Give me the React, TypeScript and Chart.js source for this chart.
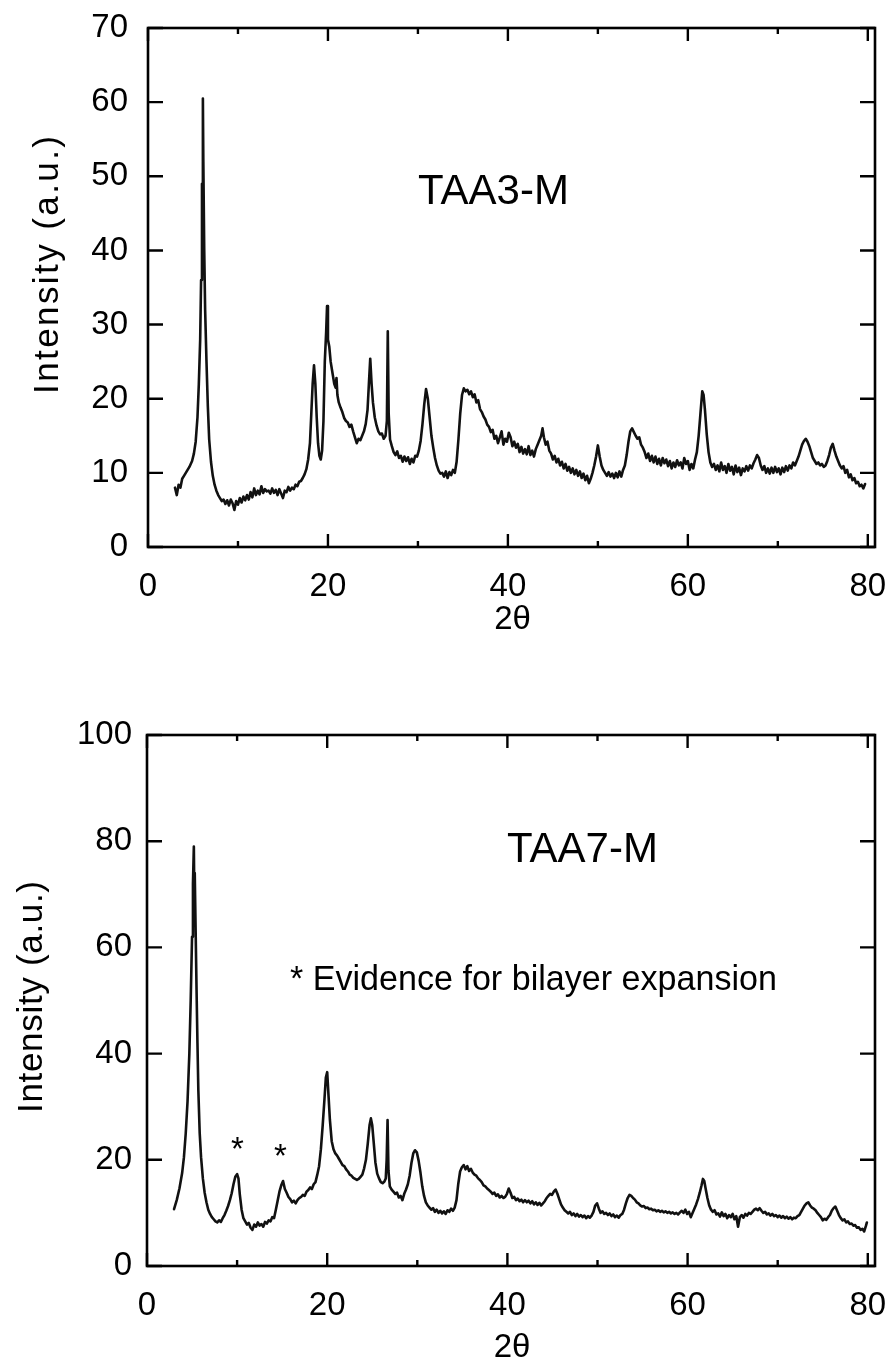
import { useEffect, useRef } from "react";
import { Chart, registerables } from "chart.js";

Chart.register(...registerables);

const FONT = '"Liberation Sans", Arial, Helvetica, sans-serif';

// TAA3-M diffraction pattern: 2θ (degrees) and intensity (a.u.)
const taa3Angle = [
  3.0, 3.2, 3.4, 3.6, 3.8, 4.0, 4.3, 4.6, 4.9, 5.1, 5.3, 5.5, 5.65, 5.8, 5.9, 6.0, 6.05, 6.1, 6.15, 6.25,
  6.35, 6.5, 6.65, 6.8, 7.0, 7.2, 7.4, 7.6, 7.8, 8.0, 8.2, 8.4, 8.6, 8.8, 9.0, 9.2, 9.4, 9.6, 9.8, 10.0,
  10.2, 10.4, 10.6, 10.8, 11.0, 11.2, 11.4, 11.6, 11.8, 12.0, 12.2, 12.4, 12.6, 12.8, 13.0, 13.2, 13.4, 13.6, 13.8, 14.0,
  14.2, 14.4, 14.6, 14.8, 15.0, 15.2, 15.4, 15.6, 15.8, 16.0, 16.2, 16.4, 16.6, 16.8, 17.0, 17.2, 17.4, 17.6, 17.8, 18.0,
  18.15, 18.3, 18.45, 18.6, 18.75, 18.9, 19.05, 19.2, 19.35, 19.5, 19.65, 19.8, 19.9, 20.0, 20.15, 20.3, 20.5, 20.7, 20.85, 20.95,
  21.05, 21.2, 21.4, 21.6, 21.8, 22.0, 22.2, 22.4, 22.6, 22.8, 23.0, 23.2, 23.4, 23.6, 23.8, 24.0, 24.2, 24.4, 24.55, 24.7,
  24.85, 25.0, 25.2, 25.4, 25.6, 25.8, 26.0, 26.2, 26.4, 26.55, 26.65, 26.75, 26.9, 27.1, 27.3, 27.5, 27.7, 27.9, 28.1, 28.3,
  28.5, 28.7, 28.9, 29.1, 29.3, 29.5, 29.7, 29.9, 30.1, 30.3, 30.5, 30.7, 30.9, 31.1, 31.3, 31.5, 31.7, 31.9, 32.1, 32.3,
  32.5, 32.7, 32.9, 33.1, 33.3, 33.5, 33.7, 33.9, 34.1, 34.3, 34.5, 34.7, 34.9, 35.1, 35.3, 35.5, 35.7, 35.9, 36.1, 36.3,
  36.5, 36.7, 36.9, 37.1, 37.3, 37.5, 37.7, 37.9, 38.1, 38.3, 38.5, 38.7, 38.9, 39.1, 39.3, 39.5, 39.7, 39.9, 40.1, 40.3,
  40.5, 40.7, 40.9, 41.1, 41.3, 41.5, 41.7, 41.9, 42.1, 42.3, 42.5, 42.7, 42.9, 43.1, 43.3, 43.5, 43.7, 43.85, 44.0, 44.2,
  44.4, 44.6, 44.8, 45.0, 45.2, 45.4, 45.6, 45.8, 46.0, 46.2, 46.4, 46.6, 46.8, 47.0, 47.2, 47.4, 47.6, 47.8, 48.0, 48.2,
  48.4, 48.6, 48.8, 49.0, 49.2, 49.4, 49.6, 49.8, 50.0, 50.2, 50.4, 50.6, 50.8, 51.0, 51.2, 51.4, 51.6, 51.8, 52.0, 52.2,
  52.4, 52.6, 52.8, 53.0, 53.2, 53.4, 53.6, 53.8, 54.0, 54.2, 54.4, 54.6, 54.8, 55.0, 55.2, 55.4, 55.6, 55.8, 56.0, 56.2,
  56.4, 56.6, 56.8, 57.0, 57.2, 57.4, 57.6, 57.8, 58.0, 58.2, 58.4, 58.6, 58.8, 59.0, 59.2, 59.4, 59.6, 59.8, 60.0, 60.2,
  60.4, 60.6, 60.8, 61.0, 61.2, 61.4, 61.6, 61.75, 61.9, 62.1, 62.3, 62.5, 62.7, 62.9, 63.1, 63.3, 63.5, 63.7, 63.9, 64.1,
  64.3, 64.5, 64.7, 64.9, 65.1, 65.3, 65.5, 65.7, 65.9, 66.1, 66.3, 66.5, 66.7, 66.9, 67.1, 67.3, 67.5, 67.7, 67.9, 68.1,
  68.3, 68.5, 68.7, 68.9, 69.1, 69.3, 69.5, 69.7, 69.9, 70.1, 70.3, 70.5, 70.7, 70.9, 71.1, 71.3, 71.5, 71.7, 71.9, 72.1,
  72.3, 72.5, 72.7, 72.9, 73.1, 73.3, 73.5, 73.7, 73.9, 74.1, 74.3, 74.5, 74.7, 74.9, 75.1, 75.3, 75.5, 75.7, 75.9, 76.1,
  76.3, 76.5, 76.7, 76.9, 77.1, 77.3, 77.5, 77.7, 77.9, 78.1, 78.3, 78.5, 78.7, 78.9, 79.1, 79.3, 79.5, 79.7,
];
const taa3Intensity = [
  8.0, 7.0, 8.4, 8.0, 9.2, 9.6, 10.2, 10.8, 11.6, 12.6, 14.2, 17.5, 22, 28, 36, 49, 47, 60.5, 52, 40,
  32, 25, 19, 14.5, 11.5, 9.6, 8.4, 7.6, 7.0, 6.6, 6.2, 6.4, 5.8, 6.3, 5.6, 6.4, 5.9, 5.0, 6.2, 5.7,
  6.6, 6.0, 6.8, 6.3, 7.0, 6.4, 7.4, 6.7, 7.9, 7.0, 7.6, 7.1, 8.2, 7.3, 7.8, 7.5, 7.6, 7.2, 7.9, 7.3,
  7.7, 7.0, 7.8, 7.2, 6.6, 7.6, 7.4, 8.1, 7.6, 8.0, 7.8, 8.4, 8.2, 8.8, 8.9, 9.3, 9.8, 10.5, 11.8, 14,
  18, 22, 24.5, 22, 17.5, 14, 12.3, 11.8, 13, 17, 25, 29, 32.5, 28, 27, 25, 23.5, 22, 21.5, 22.8,
  20.5, 19.5, 18.8, 18.2, 17.4, 17.0, 16.8, 16.2, 16.5, 15.6, 14.8, 14.0, 14.6, 14.4, 15.0, 15.6, 16.6, 18.5, 22, 25.4,
  22, 19.5, 17.5, 16.4, 15.6, 15.2, 15.3, 14.6, 15.0, 17, 29.1, 18, 14.5, 13.6, 12.8, 12.4, 12.9, 12.0, 12.3, 11.5,
  12.2, 11.6, 12.1, 11.2, 11.9, 11.4, 12.3, 12.2, 13.0, 14.3, 16.5, 19.2, 21.3, 20.0, 17.5, 15.0, 13.4, 12.0, 11.0, 10.3,
  9.9, 10.0, 9.5, 10.2, 9.3, 10.1, 9.7, 10.4, 10.0, 11.5, 14.5, 18, 20.5, 21.4, 21.0, 21.2, 20.6, 21.0, 20.2, 20.6,
  19.5, 19.8, 18.6, 18.2, 17.6, 17.2, 16.5, 16.2, 15.5, 15.8, 14.6, 15.0, 14.0, 14.8, 15.6, 13.8, 14.6, 14.2, 15.4, 14.8,
  13.6, 14.2, 13.4, 13.9, 12.8, 13.5, 12.6, 13.2, 12.5, 13.6, 12.4, 13.0, 12.2, 13.2, 13.8, 14.4, 15.0, 16.0, 14.8, 13.8,
  14.2, 13.0, 12.6, 11.8, 12.3, 11.4, 11.9, 11.0, 11.5, 10.6, 11.2, 10.3, 10.8, 10.0, 10.6, 9.8, 10.4, 9.6, 10.2, 9.3,
  9.9, 9.0, 9.6, 8.6, 9.2, 10.0, 11.0, 12.2, 13.7, 12.2, 11.0, 10.4, 10.0, 9.6, 10.1, 9.5, 9.9, 9.3, 10.0, 9.4,
  10.2, 9.5, 10.4, 11.0, 12.4, 14.2, 15.6, 16.0, 15.5, 15.0, 14.6, 14.8, 13.8, 13.4, 12.8, 12.0, 12.6, 11.6, 12.3, 11.4,
  12.2, 11.2, 11.9, 11.0, 12.0, 11.3, 11.8, 10.9, 11.6, 10.6, 11.4, 10.8, 11.7, 11.0, 11.4, 10.6, 12.0, 11.2, 11.6, 10.4,
  11.2, 10.6, 11.8, 12.8, 15.0, 18.0, 21.0, 20.5, 18.5, 15.2, 12.8, 11.4, 10.8, 11.2, 10.4, 11.0, 10.2, 11.4, 10.4, 10.9,
  10.0, 11.2, 10.3, 10.8, 9.8, 11.0, 10.1, 10.7, 9.7, 10.6, 10.2, 10.9, 10.3, 11.0, 10.6, 11.3, 11.8, 12.4, 12.0, 11.0,
  10.4, 10.9, 10.0, 10.6, 9.9, 10.7, 10.0, 10.8, 10.1, 10.6, 9.8, 10.7, 10.1, 10.9, 10.3, 11.0, 10.6, 11.4, 11.0, 11.6,
  12.2, 13.0, 13.8, 14.3, 14.6, 14.2, 13.6, 12.8, 12.0, 11.6, 11.2, 11.4, 11.0, 11.2, 10.8, 11.0, 11.6, 12.4, 13.4, 13.9,
  13.0, 12.2, 11.6, 11.0, 10.6, 10.9, 10.0, 10.4, 9.4, 9.8, 9.0, 9.3, 8.6, 8.8, 8.2, 8.4, 7.9, 8.5,
];

// TAA7-M diffraction pattern: 2θ (degrees) and intensity (a.u.)
const taa7Angle = [
  3.0, 3.3, 3.6, 3.9, 4.1, 4.3, 4.5, 4.7, 4.85, 5.0, 5.1, 5.2, 5.25, 5.3, 5.4, 5.5, 5.6, 5.7, 5.85, 6.0,
  6.2, 6.4, 6.6, 6.8, 7.0, 7.2, 7.4, 7.6, 7.8, 8.0, 8.2, 8.4, 8.6, 8.8, 9.0, 9.2, 9.4, 9.6, 9.8, 10.0,
  10.15, 10.3, 10.5, 10.7, 10.9, 11.1, 11.3, 11.5, 11.7, 11.9, 12.1, 12.3, 12.5, 12.7, 12.9, 13.1, 13.3, 13.5, 13.7, 13.9,
  14.1, 14.3, 14.5, 14.7, 14.9, 15.1, 15.3, 15.5, 15.7, 15.9, 16.1, 16.3, 16.5, 16.7, 16.9, 17.1, 17.3, 17.5, 17.7, 17.9,
  18.1, 18.3, 18.5, 18.7, 18.9, 19.1, 19.3, 19.5, 19.7, 19.85, 20.0, 20.15, 20.3, 20.5, 20.7, 20.9, 21.1, 21.3, 21.5, 21.7,
  21.9, 22.1, 22.3, 22.5, 22.7, 22.9, 23.1, 23.3, 23.5, 23.7, 23.9, 24.1, 24.3, 24.5, 24.7, 24.85, 25.0, 25.15, 25.35, 25.55,
  25.75, 25.95, 26.15, 26.35, 26.5, 26.6, 26.7, 26.8, 26.95, 27.15, 27.35, 27.55, 27.75, 27.95, 28.15, 28.35, 28.55, 28.75, 28.95, 29.15,
  29.35, 29.55, 29.75, 29.95, 30.15, 30.35, 30.55, 30.75, 30.95, 31.15, 31.35, 31.55, 31.75, 31.95, 32.15, 32.35, 32.55, 32.75, 32.95, 33.15,
  33.35, 33.55, 33.75, 33.95, 34.15, 34.35, 34.55, 34.75, 34.95, 35.15, 35.35, 35.55, 35.75, 35.95, 36.15, 36.35, 36.55, 36.75, 36.95, 37.15,
  37.35, 37.55, 37.75, 37.95, 38.15, 38.35, 38.55, 38.75, 38.95, 39.15, 39.35, 39.55, 39.75, 39.95, 40.15, 40.35, 40.55, 40.75, 40.95, 41.15,
  41.35, 41.55, 41.75, 41.95, 42.15, 42.35, 42.55, 42.75, 42.95, 43.15, 43.35, 43.55, 43.75, 43.95, 44.15, 44.35, 44.55, 44.75, 44.95, 45.15,
  45.35, 45.55, 45.75, 45.95, 46.15, 46.35, 46.55, 46.75, 46.95, 47.15, 47.35, 47.55, 47.75, 47.95, 48.15, 48.35, 48.55, 48.75, 48.95, 49.15,
  49.35, 49.55, 49.75, 49.95, 50.15, 50.35, 50.55, 50.75, 50.95, 51.15, 51.35, 51.55, 51.75, 51.95, 52.15, 52.35, 52.55, 52.75, 52.95, 53.15,
  53.35, 53.55, 53.75, 53.95, 54.15, 54.35, 54.55, 54.75, 54.95, 55.15, 55.35, 55.55, 55.75, 55.95, 56.15, 56.35, 56.55, 56.75, 56.95, 57.15,
  57.35, 57.55, 57.75, 57.95, 58.15, 58.35, 58.55, 58.75, 58.95, 59.15, 59.35, 59.55, 59.75, 59.95, 60.15, 60.35, 60.55, 60.75, 60.95, 61.15,
  61.35, 61.55, 61.7, 61.85, 62.0, 62.2, 62.4, 62.6, 62.8, 63.0, 63.2, 63.4, 63.6, 63.8, 64.0, 64.2, 64.4, 64.6, 64.8, 65.0,
  65.2, 65.4, 65.6, 65.8, 66.0, 66.2, 66.4, 66.6, 66.8, 67.0, 67.2, 67.4, 67.6, 67.8, 68.0, 68.2, 68.4, 68.6, 68.8, 69.0,
  69.2, 69.4, 69.6, 69.8, 70.0, 70.2, 70.4, 70.6, 70.8, 71.0, 71.2, 71.4, 71.6, 71.8, 72.0, 72.2, 72.4, 72.6, 72.8, 73.0,
  73.2, 73.4, 73.6, 73.8, 74.0, 74.2, 74.4, 74.6, 74.8, 75.0, 75.2, 75.4, 75.6, 75.8, 76.0, 76.2, 76.4, 76.6, 76.8, 77.0,
  77.2, 77.4, 77.6, 77.8, 78.0, 78.2, 78.4, 78.6, 78.8, 79.0, 79.2, 79.4, 79.6, 79.8, 79.9,
];
const taa7Intensity = [
  10.7, 12.4, 14.6, 17.5, 20.5, 25, 31, 40, 50, 62, 72, 79, 70, 74, 63, 52, 42, 33, 25, 20.5,
  16.5, 13.8, 12.0, 10.6, 9.8, 9.2, 8.8, 8.4, 8.2, 8.6, 8.3, 9.0, 9.6, 10.4, 11.3, 12.4, 13.7, 15.4, 16.8, 17.3,
  16.5, 13.5, 10.6, 9.0, 8.4, 7.8, 8.1, 7.2, 6.8, 7.8, 7.4, 8.2, 7.6, 7.9, 7.4, 8.3, 8.0, 8.6, 8.4, 9.2,
  9.0, 10.6, 12.3, 14.0, 15.2, 16.0, 14.5, 13.8, 13.0, 12.6, 12.0, 12.3, 11.8, 12.4, 12.8, 13.0, 13.4, 13.2, 14.0, 14.3,
  14.8, 14.5, 15.4, 15.8, 17.2, 18.8, 22, 26.5, 31.5, 35.5, 36.5, 32, 27.5, 23.5, 22.0, 21.2, 20.8, 20.2, 19.6, 19.0,
  18.8, 18.2, 17.8, 17.2, 17.0, 16.6, 16.4, 16.2, 16.4, 16.8, 17.2, 18.4, 20.0, 23.0, 26.5, 27.8, 26.5, 23.5, 19.5, 17.4,
  16.5, 15.8, 15.6, 15.9, 16.5, 20, 27.5, 18, 15.0, 14.4, 14.0, 13.6, 13.8, 12.9, 13.2, 12.4, 13.6, 14.4, 15.4, 17.0,
  19.4, 21.2, 21.8, 21.4, 19.8, 17.6, 15.0, 13.2, 12.0, 11.4, 11.0, 10.6, 10.9, 10.2, 10.6, 10.0, 10.4, 9.9, 10.3, 9.8,
  10.5, 10.2, 10.8, 10.4, 11.0, 12.4, 15.5, 17.8, 18.6, 19.0, 18.2, 18.8, 17.9, 18.3, 17.6, 17.2, 17.0, 16.5, 16.2, 15.8,
  15.2, 15.0, 14.6, 14.3, 14.0, 13.6, 13.8, 13.2, 13.5, 12.9, 13.2, 12.8, 13.0, 13.6, 14.6, 13.8, 12.8, 13.0, 12.4, 12.7,
  12.2, 12.5, 12.0, 12.4, 12.0, 12.3, 11.8, 12.2, 11.6, 12.0, 11.5, 11.9, 11.4, 11.8, 12.2, 12.8, 13.2, 13.6, 13.4, 14.0,
  14.4, 13.6, 12.6, 11.6, 11.0, 10.5, 10.2, 9.9, 10.2, 9.6, 9.9, 9.4, 9.8, 9.3, 9.6, 9.2, 9.5, 9.0, 9.4, 9.1,
  9.5, 10.2, 11.4, 11.8, 10.8, 10.0, 10.3, 9.8, 10.0, 9.6, 9.9, 9.4, 9.7, 9.2, 9.5, 9.1, 9.6, 9.8, 10.6, 11.8,
  12.8, 13.4, 13.2, 12.8, 12.5, 12.0, 11.8, 11.4, 11.2, 11.3, 10.9, 11.0, 10.7, 10.8, 10.5, 10.6, 10.3, 10.5, 10.2, 10.4,
  10.1, 10.3, 10.0, 10.2, 9.9, 10.1, 9.8, 10.0, 9.7, 10.1, 10.4, 10.0, 10.6, 9.8, 10.2, 9.2, 10.0, 10.8, 11.6, 12.6,
  13.8, 15.2, 16.4, 16.0, 14.6, 12.8, 11.4, 10.6, 10.2, 10.5, 9.7, 9.9, 9.3, 10.1, 9.4, 9.8, 9.0, 9.6, 9.2, 9.8,
  8.8, 9.4, 7.4, 9.2, 9.6, 9.1, 9.8, 9.5, 10.0, 9.8, 10.2, 10.6, 10.8, 10.5, 10.9, 10.4, 10.0, 10.2, 9.7, 9.9,
  9.5, 9.8, 9.4, 9.6, 9.2, 9.5, 9.1, 9.4, 9.0, 9.3, 8.9, 9.2, 8.8, 9.1, 9.0, 9.4, 9.6, 10.2, 10.8, 11.4,
  11.8, 12.0, 11.4, 11.0, 10.8, 10.5, 10.0, 9.6, 9.2, 8.6, 8.9, 8.7, 9.2, 9.6, 10.4, 10.9, 11.2, 10.4, 9.6, 9.0,
  8.6, 8.8, 8.2, 8.4, 7.9, 8.0, 7.6, 7.7, 7.2, 7.3, 6.8, 7.0, 6.5, 7.6, 8.2,
];

// Axis ticks
const angleMajorTicks = [0, 20, 40, 60, 80];
const angleMinorTicks = [10, 30, 50, 70];
const taa3IntensityTicks = [0, 10, 20, 30, 40, 50, 60, 70];
const taa7IntensityTicks = [0, 20, 40, 60, 80, 100];

type Note = { text: string; x: number; y: number; size: number; maxWidth?: number };

type Panel = {
  top: number;
  height: number;
  area: { left: number; right: number; top: number; bottom: number };
  xMax: number;
  yMax: number;
  yTicks: number[];
  angle: number[];
  intensity: number[];
  yLabelGap: number;
  yTitle: { x: number; y: number; length: number };
  xTitleY: number;
  notes: Note[];
};

const panels: Panel[] = [
  {
    top: 0,
    height: 640,
    area: { left: 148, right: 875, top: 28, bottom: 547 },
    xMax: 80.8,
    yMax: 70,
    yTicks: taa3IntensityTicks,
    angle: taa3Angle,
    intensity: taa3Intensity,
    yLabelGap: 20,
    yTitle: { x: 48, y: 265, length: 258 },
    xTitleY: 620,
    notes: [{ text: "TAA3-M", x: 418, y: 204, size: 42 }],
  },
  {
    top: 640,
    height: 726,
    area: { left: 147, right: 875, top: 95, bottom: 626 },
    xMax: 80.8,
    yMax: 100,
    yTicks: taa7IntensityTicks,
    angle: taa7Angle,
    intensity: taa7Intensity,
    yLabelGap: 15,
    yTitle: { x: 32, y: 357, length: 232 },
    xTitleY: 708,
    notes: [
      { text: "TAA7-M", x: 507, y: 222, size: 42 },
      { text: "* Evidence for bilayer expansion", x: 290, y: 350, size: 35, maxWidth: 487 },
      { text: "*", x: 231, y: 520, size: 33 },
      { text: "*", x: 274, y: 527, size: 33 },
    ],
  },
];

// Frame, inward tick marks, axis titles and annotations
const framePlugin = {
  id: "frame",
  afterDatasetsDraw(chart: any, _args: any, opts: any) {
    const { ctx, chartArea } = chart;
    const { left, right, top, bottom } = chartArea;
    const xs = chart.scales.x;
    const ys = chart.scales.y;
    const panel: Panel = opts.panel;
    ctx.save();
    ctx.strokeStyle = "#000";
    ctx.fillStyle = "#000";
    ctx.lineWidth = 2.6;
    ctx.lineCap = "butt";
    ctx.strokeRect(left, top, right - left, bottom - top);

    ctx.lineWidth = 2.4;
    ctx.beginPath();
    for (const v of panel.yTicks) {
      const py = ys.getPixelForValue(v);
      ctx.moveTo(left, py);
      ctx.lineTo(left + 15, py);
      ctx.moveTo(right, py);
      ctx.lineTo(right - 15, py);
    }
    for (const v of angleMajorTicks) {
      const px = xs.getPixelForValue(v);
      ctx.moveTo(px, bottom);
      ctx.lineTo(px, bottom - 13);
      ctx.moveTo(px, top);
      ctx.lineTo(px, top + 13);
    }
    for (const v of angleMinorTicks) {
      const px = xs.getPixelForValue(v);
      ctx.moveTo(px, bottom);
      ctx.lineTo(px, bottom - 6);
      ctx.moveTo(px, top);
      ctx.lineTo(px, top + 6);
    }
    ctx.stroke();

    // y title, rotated and slightly letter-spaced
    ctx.font = `35px ${FONT}`;
    const title = "Intensity (a.u.)";
    const natural = ctx.measureText(title).width;
    const spacing = Math.max(0, (panel.yTitle.length - natural) / (title.length - 1));
    ctx.save();
    ctx.translate(panel.yTitle.x, panel.yTitle.y);
    ctx.rotate(-Math.PI / 2);
    (ctx as any).letterSpacing = `${spacing}px`;
    ctx.textAlign = "center";
    ctx.textBaseline = "middle";
    ctx.fillText(title, spacing / 2, 0);
    ctx.restore();

    // x title
    ctx.font = `33px ${FONT}`;
    ctx.textAlign = "center";
    ctx.textBaseline = "middle";
    ctx.fillText("2θ", (left + right) / 2 + 1, panel.xTitleY);

    // annotations
    ctx.textAlign = "left";
    ctx.textBaseline = "alphabetic";
    for (const n of panel.notes) {
      ctx.font = `${n.size}px ${FONT}`;
      if (n.maxWidth) ctx.fillText(n.text, n.x, n.y, n.maxWidth);
      else ctx.fillText(n.text, n.x, n.y);
    }
    ctx.restore();
  },
};

function PatternChart({ panel }: { panel: Panel }) {
  const ref = useRef<HTMLCanvasElement | null>(null);
  useEffect(() => {
    if (!ref.current) return;
    const points = panel.angle.map((a, i) => ({ x: a, y: panel.intensity[i] }));
    const tickFont = { family: FONT, size: 33 };
    const chart = new Chart(ref.current, {
      type: "line",
      data: {
        datasets: [
          {
            data: points,
            borderColor: "#111",
            borderWidth: 2.6,
            pointRadius: 0,
            tension: 0,
            fill: false,
            borderJoinStyle: "round",
            borderCapStyle: "round",
          },
        ],
      },
      options: {
        animation: false,
        responsive: false,
        devicePixelRatio: 1,
        layout: {
          padding: { left: 0, right: 892 - panel.area.right, top: panel.area.top, bottom: 0 },
        },
        plugins: {
          legend: { display: false },
          tooltip: { enabled: false },
          frame: { panel },
        } as any,
        scales: {
          x: {
            type: "linear",
            min: 0,
            max: panel.xMax,
            grid: { display: false, drawTicks: false },
            border: { display: false },
            ticks: { font: tickFont, color: "#000", padding: 20, maxRotation: 0, autoSkip: false },
            afterBuildTicks: (s: any) => {
              s.ticks = angleMajorTicks.map((v) => ({ value: v }));
            },
            afterFit: (s: any) => {
              s.height = panel.height - panel.area.bottom;
              s.paddingLeft = 0;
              s.paddingRight = 0;
            },
          },
          y: {
            type: "linear",
            min: 0,
            max: panel.yMax,
            grid: { display: false, drawTicks: false },
            border: { display: false },
            ticks: { font: tickFont, color: "#000", padding: panel.yLabelGap },
            afterBuildTicks: (s: any) => {
              s.ticks = panel.yTicks.map((v) => ({ value: v }));
            },
            afterFit: (s: any) => {
              s.width = panel.area.left;
              s.paddingTop = 0;
              s.paddingBottom = 0;
            },
          },
        },
      },
      plugins: [framePlugin],
    });
    return () => chart.destroy();
  }, [panel]);

  return (
    <canvas
      ref={ref}
      width={892}
      height={panel.height}
      style={{ position: "absolute", left: 0, top: panel.top, width: 892, height: panel.height, display: "block" }}
    />
  );
}

export default function App() {
  return (
    <div style={{ position: "absolute", left: 0, top: 0, width: 892, height: 1366, background: "#fff" }}>
      {panels.map((p, i) => (
        <PatternChart key={i} panel={p} />
      ))}
    </div>
  );
}
